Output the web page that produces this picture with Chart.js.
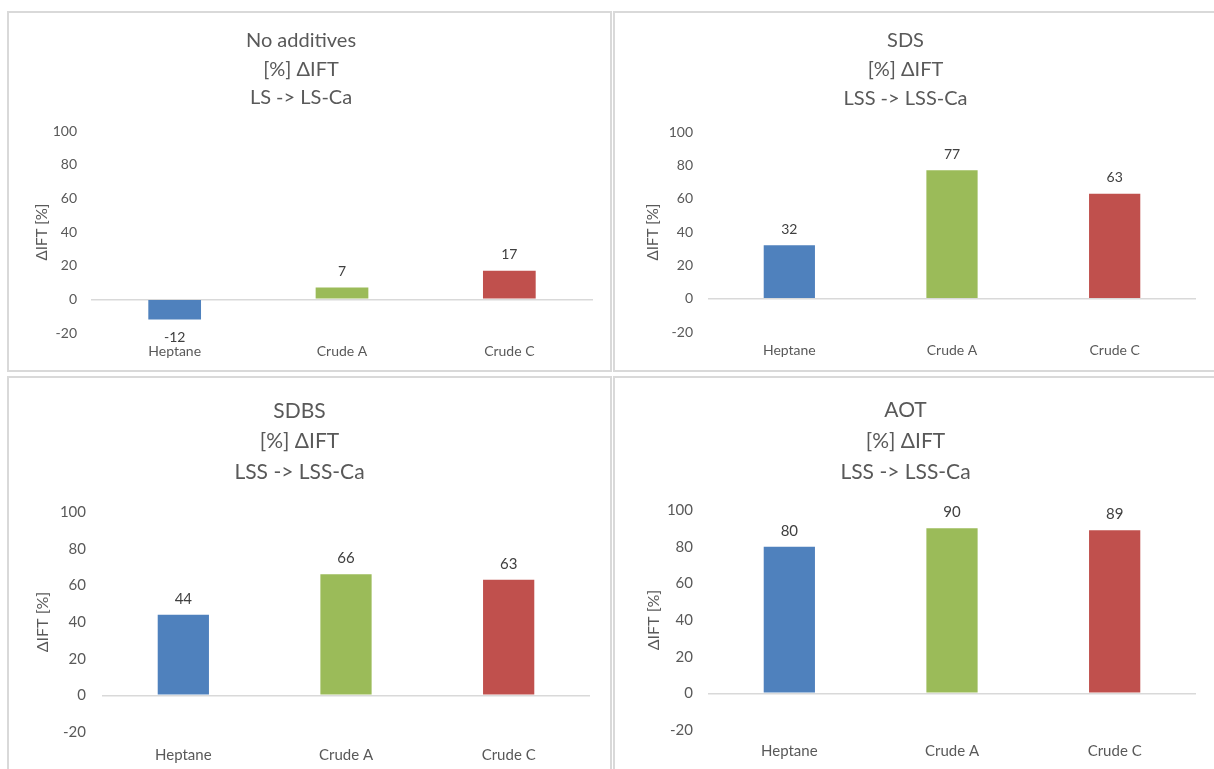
<!DOCTYPE html>
<html>
<head>
<meta charset="utf-8">
<script src="https://cdn.jsdelivr.net/npm/chart.js@4.4.1/dist/chart.umd.min.js"></script>
<style>
  html, body { margin: 0; padding: 0; background: #ffffff; overflow: hidden; }
  body { width: 1214px; height: 769px; position: relative; }
  .panel { position: absolute; box-sizing: border-box; border: 2px solid #d9d9d9; background: #fff; }
  .panel canvas { position: absolute; left: 0; top: 0; }
</style>
</head>
<body>
<div class="panel" id="p1" style="left:7px;top:11px;width:605px;height:361px;"><canvas id="c1"></canvas></div>
<div class="panel" id="p2" style="left:613px;top:11px;width:606px;height:361px;"><canvas id="c2"></canvas></div>
<div class="panel" id="p3" style="left:7px;top:376px;width:605px;height:400px;"><canvas id="c3"></canvas></div>
<div class="panel" id="p4" style="left:613px;top:376px;width:606px;height:400px;"><canvas id="c4"></canvas></div>
<script>
// Categories shared by all four panels
const categories = ["Heptane", "Crude A", "Crude C"];

// Percentage change in IFT for each additive case
const noAdditives = [-12, 7, 17];
const sds = [32, 77, 63];
const sdbs = [44, 66, 63];
const aot = [80, 90, 89];

// Panel titles
const titleNoAdditives = ["No additives", "[%] \u0394IFT", "LS -> LS-Ca"];
const titleSds = ["SDS", "[%] \u0394IFT", "LSS -> LSS-Ca"];
const titleSdbs = ["SDBS", "[%] \u0394IFT", "LSS -> LSS-Ca"];
const titleAot = ["AOT", "[%] \u0394IFT", "LSS -> LSS-Ca"];

// Value axis
const yMin = -20;
const yMax = 100;
const yStep = 20;
const yAxisTitle = "\u0394IFT [%]";

const barColors = ["#4F81BD", "#9BBB59", "#C0504D"];
const textColor = "#595959";
const fontFamily = "Lato, 'Open Sans', 'DejaVu Sans', sans-serif";

// Value labels above (or below, for negatives) each bar
const valueLabels = {
  id: "valueLabels",
  afterDatasetsDraw(chart, args, opts) {
    const ctx = chart.ctx;
    ctx.save();
    ctx.font = (opts.size || 14) + "px " + fontFamily;
    ctx.fillStyle = "#404040";
    ctx.textAlign = "center";
    ctx.textBaseline = "middle";
    chart.data.datasets.forEach((ds, di) => {
      chart.getDatasetMeta(di).data.forEach((bar, i) => {
        const v = ds.data[i];
        const y = v >= 0 ? bar.y - 16 : bar.y + 18;
        ctx.fillText(String(v), bar.x, y);
      });
    });
    ctx.restore();
  }
};

// Geometry of each panel's drawing area (canvas pixels)
function makeChart(canvasId, panelId, values, titleLines, g) {
  const panel = document.getElementById(panelId);
  const canvas = document.getElementById(canvasId);
  const W = panel.clientWidth;
  const H = panel.clientHeight;
  canvas.width = W;
  canvas.height = H;
  const lineH = (g.titles[2] - g.titles[0]) / 2;
  const titlePadTop = g.titles[0] - lineH / 2;
  const titlePadBottom = g.plotT - (titlePadTop + 3 * lineH);
  const xAxisH = 34;
  const yTitleLine = g.textSize * 1.2;
  return new Chart(canvas, {
    type: "bar",
    data: {
      labels: categories,
      datasets: [{
        data: values,
        backgroundColor: barColors,
        borderWidth: 0,
        barPercentage: 0.315,
        categoryPercentage: 1.0
      }]
    },
    options: {
      responsive: false,
      animation: false,
      layout: {
        padding: { left: 0, top: 0, right: W - g.plotR, bottom: H - g.plotB - xAxisH }
      },
      plugins: {
        legend: { display: false },
        tooltip: { enabled: false },
        valueLabels: { size: g.textSize },
        title: {
          display: true,
          text: titleLines,
          color: textColor,
          font: { family: fontFamily, size: g.titleSize, weight: "normal", lineHeight: lineH + "px" },
          padding: { top: titlePadTop, bottom: titlePadBottom }
        }
      },
      scales: {
        x: {
          grid: { display: false, drawTicks: false },
          border: { display: false },
          ticks: {
            color: textColor,
            padding: g.labelPad,
            font: { family: fontFamily, size: g.textSize }
          },
          afterFit(scale) { scale.height = xAxisH; }
        },
        y: {
          min: yMin,
          max: yMax,
          ticks: {
            stepSize: yStep,
            color: textColor,
            padding: g.tickPad,
            font: { family: fontFamily, size: g.textSize }
          },
          grid: {
            drawTicks: false,
            lineWidth: 1.5,
            color: (c) => (c.tick && c.tick.value === 0 ? "#d9d9d9" : "rgba(0,0,0,0)")
          },
          border: { display: false },
          title: {
            display: true,
            text: yAxisTitle,
            color: textColor,
            font: { family: fontFamily, size: g.textSize + 1, lineHeight: 1.2 },
            padding: { top: g.yTitleX - yTitleLine / 2, bottom: 0 }
          },
          afterFit(scale) { scale.width = g.plotL; }
        }
      }
    },
    plugins: [valueLabels]
  });
}

makeChart("c1", "p1", noAdditives, titleNoAdditives,
  { plotL: 82, plotR: 584, plotT: 118, plotB: 320, tickPad: 14, yTitleX: 33, labelPad: 10, titles: [28, 57, 85], titleSize: 20, textSize: 14 });
makeChart("c2", "p2", sds, titleSds,
  { plotL: 93, plotR: 581, plotT: 119, plotB: 319, tickPad: 15, yTitleX: 38, labelPad: 10, titles: [28, 57, 86], titleSize: 20, textSize: 14 });
makeChart("c3", "p3", sdbs, titleSdbs,
  { plotL: 93, plotR: 581, plotT: 134, plotB: 354, tickPad: 16, yTitleX: 33, labelPad: 14, titles: [33, 63, 94], titleSize: 21, textSize: 15 });
makeChart("c4", "p4", aot, titleAot,
  { plotL: 93, plotR: 581, plotT: 132, plotB: 352, tickPad: 15, yTitleX: 38, labelPad: 12, titles: [32, 62, 94], titleSize: 21, textSize: 15 });
</script>
</body>
</html>
